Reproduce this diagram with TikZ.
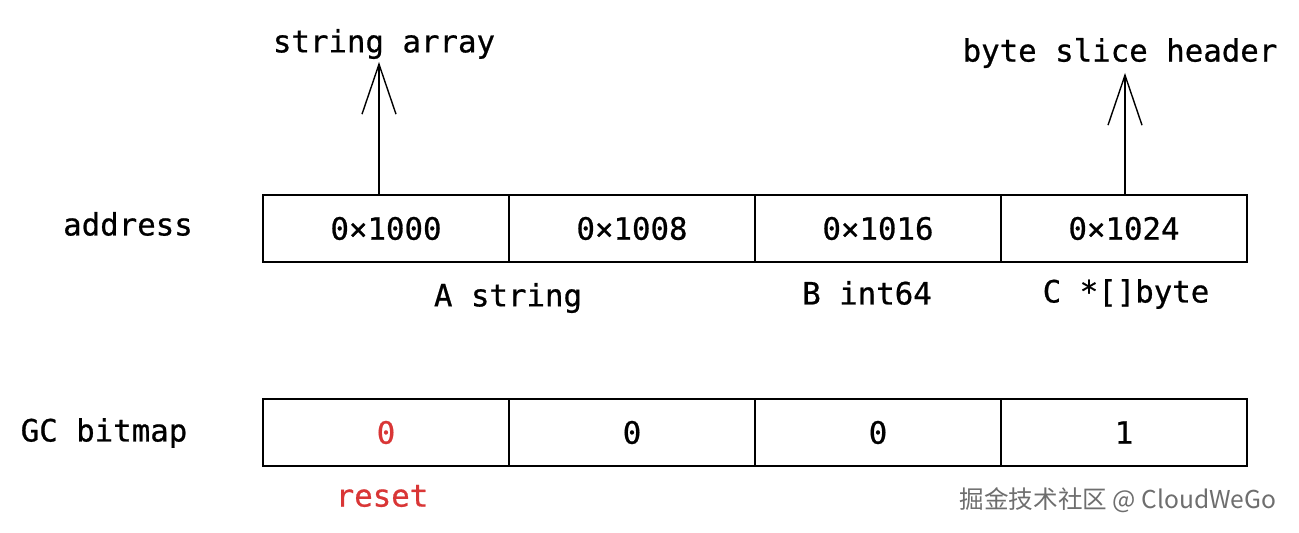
\documentclass[tikz,border=0pt]{standalone}
\usepackage{fontspec}
\newfontfamily\codefont[FakeBold=0.7]{DejaVu Sans Mono}
\newfontfamily\cjk{Noto Sans CJK SC}
\usetikzlibrary{arrows.meta, positioning}
\definecolor{resetred}{HTML}{D93636}
\definecolor{markgray}{HTML}{6E6E6E}

\begin{document}
\begin{tikzpicture}[x=0.02cm, y=-0.02cm,
    cell/.style={draw, line width=0.8pt, minimum width=4.92cm, minimum height=1.34cm,
                 inner sep=0pt, font=\codefont\fontsize{17.5}{20}\selectfont},
    lbl/.style={inner sep=0pt, font=\codefont\fontsize{17.5}{20}\selectfont},
    ptr/.style={-{Straight Barb[length=1cm, width=0.68cm]}, line width=0.8pt}]
    \useasboundingbox (0,0) rectangle (1299,533);

    % --- 1. address row and GC bitmap row ---
    \foreach \i/\addr/\bit/\col in {1/0×1000/0/resetred, 2/0×1008/0/black,
                                    3/0×1016/0/black, 4/0×1024/1/black} {
        \node[cell] (a\i) at (140+246*\i,228.5) {\addr};
        \node[cell, text=\col] (g\i) at (140+246*\i,432.5) {\bit};
    }

    % --- 2. row names ---
    \node[lbl] (addr) at (128,224) {address};
    \node[lbl] (gcbm) at (104,433) {GC bitmap};

    % --- 3. field names under the cells ---
    \node[lbl] (fa) at (508,298) {A string};
    \node[lbl] (fb) at (867,293) {B int64};
    \node[lbl] (fc) at (1126,294) {C *[]byte};
    \node[lbl, text=resetred] (rst) at (382,496) {reset};

    % --- 4. pointers ---
    \node[lbl] (sarr) at (384,44) {string array};
    \node[lbl] (bsh) at (1120,53) {byte slice header};
    \coordinate (sa) at (379,62);
    \coordinate (sb) at (1125,73);
    \draw[ptr] (sa |- a1.north) -- (sa);
    \draw[ptr] (sb |- a4.north) -- (sb);

    % --- 5. watermark ---
    \node[inner sep=0pt, text=markgray, font=\cjk\fontsize{14}{16}\selectfont] (wm) at (1118,500)
        {掘金技术社区 @ CloudWeGo};
\end{tikzpicture}
\end{document}
